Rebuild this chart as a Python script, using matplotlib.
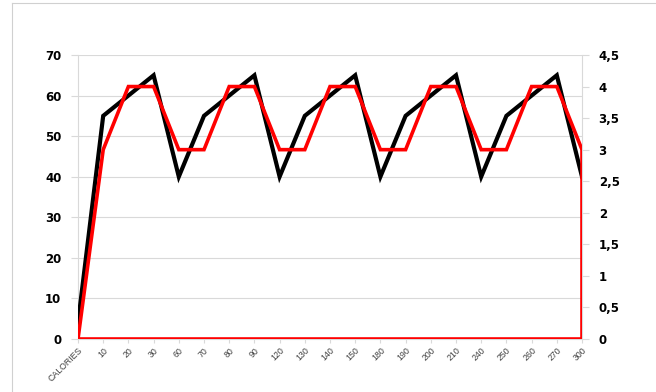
import matplotlib
matplotlib.use("Agg")
import matplotlib.pyplot as plt
from matplotlib.lines import Line2D
import numpy as np

categories = ["CALORIES", "10", "20", "30", "60", "70", "80", "90", "120", "130",
              "140", "150", "180", "190", "200", "210", "240", "250", "260", "270", "300"]
black_series = [4, 55, 60, 65, 40, 55, 60, 65, 40, 55, 60, 65, 40, 55, 60, 65, 40, 55, 60, 65, 40]
red_series = [0, 3, 4, 4, 3, 3, 4, 4, 3, 3, 4, 4, 3, 3, 4, 4, 3, 3, 4, 4, 3]
left_ticks = [0, 10, 20, 30, 40, 50, 60, 70]
right_ticks = [0, 0.5, 1, 1.5, 2, 2.5, 3, 3.5, 4, 4.5]
right_labels = ["0", "0,5", "1", "1,5", "2", "2,5", "3", "3,5", "4", "4,5"]

W, H = 656, 392
fig = plt.figure(figsize=(W / 100, H / 100), dpi=100)
fig.patch.set_facecolor("white")

# outer chart frame
fig.add_artist(Line2D([12 / W, 12 / W], [0, 1 - 3 / H], transform=fig.transFigure,
                      color="#d0d0d0", lw=0.8))
fig.add_artist(Line2D([12 / W, 1], [1 - 3 / H, 1 - 3 / H], transform=fig.transFigure,
                      color="#d0d0d0", lw=0.8))

left, right, top, bottom = 78, 582, 55, 339
ax = fig.add_axes([left / W, 1 - bottom / H, (right - left) / W, (bottom - top) / H])
ax2 = ax.twinx()

x = np.arange(len(categories))
grid_c = "#d9d9d9"

ax.set_ylim(0, 70)
ax.set_xlim(0, len(categories) - 1)
ax.set_yticks(left_ticks)
ax.set_yticklabels([str(t) for t in left_ticks], fontsize=8.5, fontweight="bold",
                   family="DejaVu Sans")
for t in left_ticks[1:]:
    ax.axhline(t, color=grid_c, lw=0.8, zorder=0)
ax.set_xticks(x)
ax.set_xticklabels(categories, rotation=45, ha="right", rotation_mode="anchor",
                   fontsize=6.3, color="#404040", family="Liberation Sans")
ax.tick_params(axis="x", length=3, color=grid_c, pad=2)
ax.tick_params(axis="y", length=5, color=grid_c, pad=7)

for a in (ax, ax2):
    for s in a.spines.values():
        s.set_visible(False)
ax.spines["left"].set_visible(True)
ax.spines["left"].set_color(grid_c)
ax.spines["bottom"].set_visible(True)
ax.spines["bottom"].set_color(grid_c)
ax2.spines["right"].set_visible(True)
ax2.spines["right"].set_color(grid_c)

ax.plot(x, black_series, color="black", lw=3.0, solid_joinstyle="miter", zorder=3)

ax2.set_ylim(0, 4.5)
ax2.set_yticks(right_ticks)
ax2.set_yticklabels(right_labels, fontsize=8.5, fontweight="bold", family="DejaVu Sans")
ax2.tick_params(axis="y", length=5, color=grid_c, pad=7)
ax2.fill_between(x, red_series, 0, facecolor="none", edgecolor="#ff0000", lw=2.6,
                 joinstyle="miter", zorder=4)

ax.set_zorder(1)
ax2.set_zorder(2)
ax2.patch.set_visible(False)

fig.savefig("out.png", dpi=100, facecolor="white")
